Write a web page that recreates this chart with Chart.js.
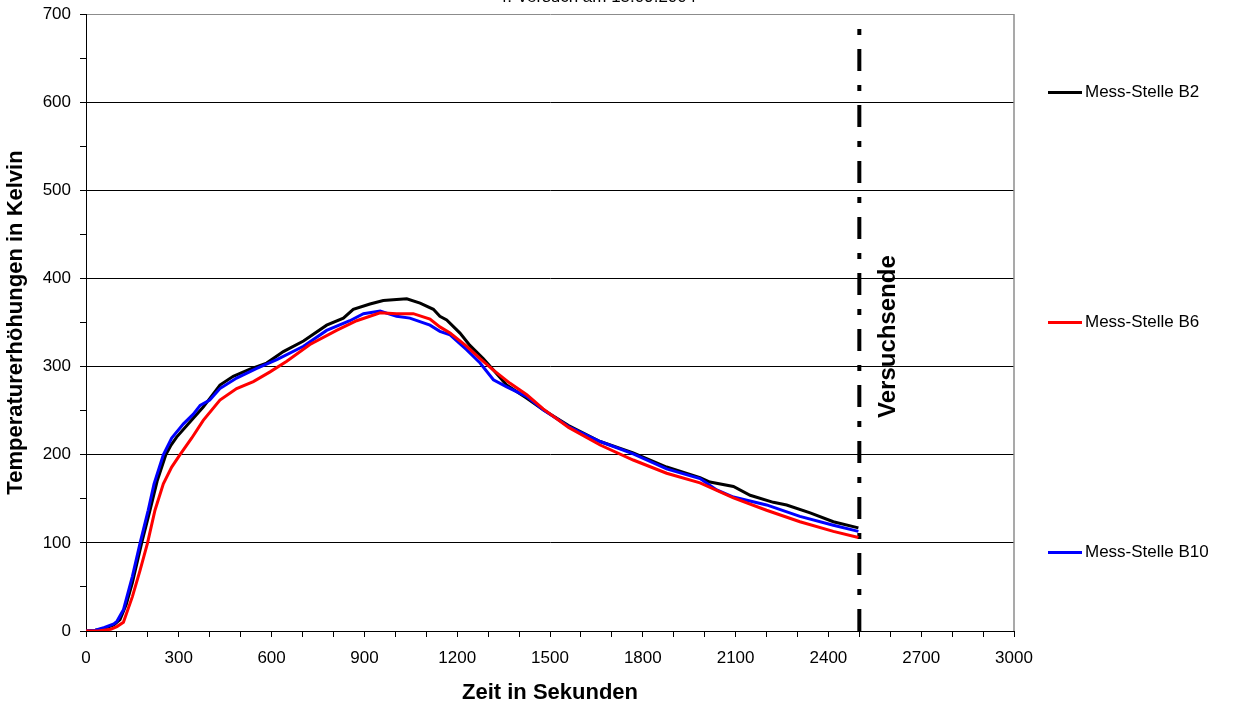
<!DOCTYPE html>
<html>
<head>
<meta charset="utf-8">
<script src="https://cdn.jsdelivr.net/npm/chart.js@4.4.1/dist/chart.umd.min.js"></script>
<style>
  html, body { margin: 0; padding: 0; background: #fff; }
  #wrap { width: 1245px; height: 706px; position: relative; }
</style>
</head>
<body>
<div id="wrap"><canvas id="tempChart"></canvas></div>
<script>
const chartTitle = '4. Versuch am 15.09.2004';
const endLabel = 'Versuchsende';
const endTime = 2500;

const b2Time = [0, 30, 60, 90, 110, 130, 150, 180, 207, 230, 258, 275, 293, 336, 379, 433, 476, 530, 584, 638, 703, 778, 832, 864, 918, 961, 1004, 1037, 1080, 1123, 1144, 1166, 1209, 1241, 1284, 1317, 1360, 1425, 1478, 1560, 1662, 1769, 1877, 1985, 2017, 2093, 2147, 2222, 2265, 2341, 2416, 2497];
const b2Values = [0, 1, 3, 7, 13, 30, 55, 100, 137, 170, 200, 211, 220, 237, 254, 279, 289, 297, 304, 317, 329, 347, 355, 365, 371, 375, 376, 377, 372, 365, 357, 353, 338, 324, 309, 296, 279, 264, 251, 233, 215, 202, 186, 174, 169, 164, 154, 146, 143, 134, 124, 117];

const b6Time = [0, 40, 80, 100, 121, 150, 175, 199, 223, 250, 277, 304, 342, 379, 433, 487, 541, 595, 649, 724, 810, 875, 951, 1004, 1058, 1112, 1144, 1177, 1231, 1274, 1317, 1371, 1425, 1478, 1560, 1662, 1769, 1877, 1985, 2093, 2200, 2308, 2416, 2497];
const b6Values = [0, 0, 2, 5, 10, 39, 69, 100, 137, 167, 186, 200, 219, 239, 262, 275, 283, 294, 306, 325, 341, 352, 361, 360, 360, 354, 345, 338, 323, 309, 296, 281, 268, 252, 231, 211, 194, 179, 168, 151, 137, 124, 113, 106];

const b10Time = [0, 30, 60, 90, 100, 121, 150, 175, 201, 220, 250, 277, 315, 347, 369, 400, 433, 487, 552, 617, 703, 778, 853, 897, 951, 1004, 1047, 1112, 1144, 1177, 1231, 1274, 1317, 1360, 1425, 1478, 1560, 1662, 1769, 1877, 1985, 2039, 2093, 2200, 2308, 2416, 2497];
const b10Values = [0, 1, 4, 8, 11, 24, 62, 100, 137, 167, 200, 219, 235, 246, 256, 262, 275, 287, 298, 308, 323, 341, 352, 360, 363, 357, 355, 347, 340, 336, 319, 304, 285, 277, 266, 251, 232, 215, 201, 184, 173, 160, 152, 143, 130, 120, 113];

const endLineValues = [0, 690];

const toPoints = (xs, ys) => xs.map((x, i) => ({ x: x, y: ys[i] }));

Chart.defaults.font.family = "'Liberation Sans', Arial, sans-serif";
Chart.defaults.color = '#000';

// Titel, Rahmen rechts, Legende und Beschriftung "Versuchsende"
const decorPlugin = {
    id: 'decor',
    afterDraw(chart) {
        const ctx = chart.ctx;
        const area = chart.chartArea;
        const xs = chart.scales.x;
        const ys = chart.scales.y;
        ctx.save();

        // rechter Rahmen
        ctx.strokeStyle = '#8c8c8c';
        ctx.lineWidth = 1.5;
        ctx.beginPath();
        ctx.moveTo(area.right, area.top);
        ctx.lineTo(area.right, area.bottom);
        ctx.stroke();

        // Titel (oben abgeschnitten)
        ctx.fillStyle = '#000';
        ctx.font = "17px 'Liberation Sans', Arial, sans-serif";
        ctx.textAlign = 'center';
        ctx.textBaseline = 'alphabetic';
        ctx.fillText(chartTitle, 597, 2);

        // Versuchsende
        ctx.save();
        ctx.translate(xs.getPixelForValue(endTime) + 29, ys.getPixelForValue(334));
        ctx.rotate(-Math.PI / 2);
        ctx.font = "bold 24px 'Liberation Sans', Arial, sans-serif";
        ctx.textBaseline = 'middle';
        ctx.fillText(endLabel, 0, 0);
        ctx.restore();

        // Legende
        const mid = (area.top + area.bottom) / 2;
        const lx = area.right + 34;
        chart.data.datasets.slice(0, 3).forEach((ds, i) => {
            const y = mid + (i - 1) * 230;
            ctx.strokeStyle = ds.borderColor;
            ctx.lineWidth = 3;
            ctx.beginPath();
            ctx.moveTo(lx, y);
            ctx.lineTo(lx + 34, y);
            ctx.stroke();
            ctx.font = "17px 'Liberation Sans', Arial, sans-serif";
            ctx.textAlign = 'left';
            ctx.textBaseline = 'middle';
            ctx.fillStyle = '#000';
            ctx.fillText(ds.label, lx + 37, y);
        });
        ctx.restore();
    }
};

new Chart(document.getElementById('tempChart'), {
    type: 'line',
    data: {
        datasets: [
            {
                label: 'Mess-Stelle B2',
                data: toPoints(b2Time, b2Values),
                borderColor: '#000000',
                borderWidth: 3,
                pointRadius: 0,
                tension: 0,
                order: 3
            },
            {
                label: 'Mess-Stelle B6',
                data: toPoints(b6Time, b6Values),
                borderColor: '#ff0000',
                borderWidth: 3,
                pointRadius: 0,
                tension: 0,
                order: 1
            },
            {
                label: 'Mess-Stelle B10',
                data: toPoints(b10Time, b10Values),
                borderColor: '#0000ff',
                borderWidth: 3,
                pointRadius: 0,
                tension: 0,
                order: 2
            },
            {
                label: endLabel,
                data: endLineValues.map(v => ({ x: endTime, y: v })),
                borderColor: '#000000',
                borderWidth: 4,
                borderDash: [22, 14, 6, 14],
                borderCapStyle: 'butt',
                pointRadius: 0,
                clip: false,
                order: 4
            }
        ]
    },
    options: {
        responsive: true,
        maintainAspectRatio: false,
        animation: false,
        layout: { padding: { top: 14, right: 231, bottom: 0, left: 0 } },
        plugins: {
            legend: { display: false },
            tooltip: { enabled: false },
            title: { display: false }
        },
        scales: {
            x: {
                type: 'linear',
                min: 0,
                max: 3000,
                afterFit: scale => { scale.height = 75; },
                ticks: {
                    stepSize: 100,
                    autoSkip: false,
                    maxRotation: 0,
                    padding: 11,
                    font: { size: 17 },
                    color: '#000',
                    callback: v => (v % 300 === 0 ? String(v) : '')
                },
                grid: {
                    drawOnChartArea: false,
                    tickColor: '#000',
                    tickLength: 6
                },
                border: { color: '#000', width: 1 },
                title: {
                    display: true,
                    text: 'Zeit in Sekunden',
                    font: { size: 22, weight: 'bold' },
                    padding: { top: 0, bottom: 0 }
                }
            },
            y: {
                min: 0,
                max: 700,
                afterFit: scale => {
                    scale.width = 86;
                    scale.paddingTop = 0;
                    scale.paddingBottom = 0;
                },
                ticks: {
                    stepSize: 50,
                    padding: 9,
                    font: { size: 17 },
                    color: '#000',
                    callback: v => (v % 100 === 0 ? String(v) : '')
                },
                grid: {
                    color: c => {
                        const v = c.tick ? c.tick.value : 0;
                        if (v % 100 !== 0) return 'rgba(0,0,0,0)';
                        if (v === 700) return '#8c8c8c';
                        return '#000';
                    },
                    tickColor: '#000',
                    tickLength: 6,
                    lineWidth: 1
                },
                border: { color: '#000', width: 1 },
                title: {
                    display: true,
                    text: 'Temperaturerhöhungen in Kelvin',
                    font: { size: 22, weight: 'bold' },
                    padding: { top: 3, bottom: 0 }
                }
            }
        }
    },
    plugins: [decorPlugin]
});
</script>
</body>
</html>
